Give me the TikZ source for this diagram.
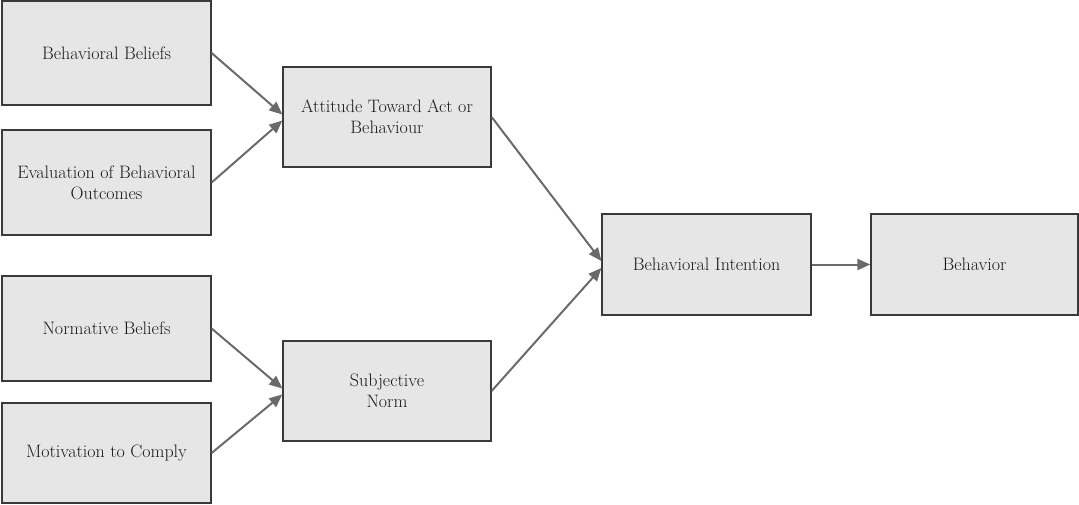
\documentclass[tikz,border=0pt]{standalone}
\usetikzlibrary{arrows.meta,calc}
\definecolor{boxfill}{HTML}{E6E6E6}
\definecolor{boxline}{HTML}{3A3A3A}
\definecolor{arrowgray}{HTML}{6A6A6A}
\definecolor{textgray}{HTML}{1A1A1A}
\begin{document}
\begin{tikzpicture}[x=1pt,y=-1pt,
  box/.style={draw=boxline, fill=boxfill, line width=1.3pt, align=center,
    text=textgray, inner sep=0pt, font=\rmfamily\fontsize{18}{21}\selectfont},
  link/.style={draw=arrowgray, line width=2pt,
    -{Triangle[length=13pt,width=11pt]}}]
  \useasboundingbox (0,0) rectangle (1079,504);

  % left column: antecedent beliefs
  \node[box, minimum width=209pt, minimum height=104pt] (bb)  at (106.5,53)    {Behavioral Beliefs};
  \node[box, minimum width=209pt, minimum height=105pt] (ebo) at (106.5,182.5) {Evaluation of Behavioral\\Outcomes};
  \node[box, minimum width=209pt, minimum height=105pt] (nb)  at (106.5,328.5) {Normative Beliefs};
  \node[box, minimum width=209pt, minimum height=100pt] (mc)  at (106.5,453)   {Motivation to Comply};

  % middle column
  \node[box, minimum width=208pt, minimum height=100pt] (att) at (387,117) {Attitude Toward Act or\\Behaviour};
  \node[box, minimum width=208pt, minimum height=100pt] (sn)  at (387,391) {Subjective\\Norm};

  % right: intention and behavior
  \node[box, minimum width=209pt, minimum height=101pt] (bi)  at (706.5,264.5) {Behavioral Intention};
  \node[box, minimum width=207pt, minimum height=101pt] (beh) at (974.5,264.5) {Behavior};

  % connectors
  \draw[link] (bb.east)  -- ($(att.west)+(0,-2.5)$);
  \draw[link] (ebo.east) -- ($(att.west)+(0,3.5)$);
  \draw[link] (nb.east)  -- ($(sn.west)+(0,-2.5)$);
  \draw[link] (mc.east)  -- ($(sn.west)+(0,3.5)$);
  \draw[link] (att.east) -- ($(bi.west)+(0,-3.5)$);
  \draw[link] (sn.east)  -- ($(bi.west)+(0,3.5)$);
  \draw[link] (bi.east)  -- (beh.west);
\end{tikzpicture}
\end{document}
